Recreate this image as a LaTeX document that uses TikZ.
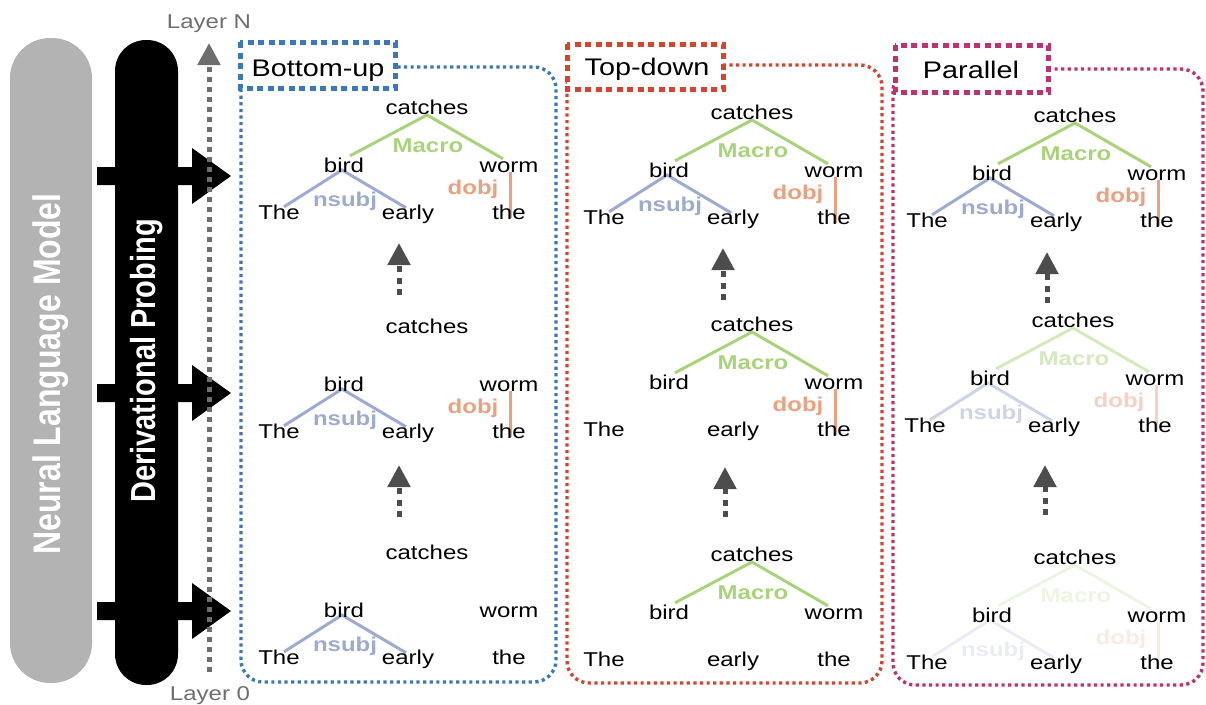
\documentclass[tikz,border=0pt]{standalone}
\usepackage{fontspec}
\setmainfont{Liberation Sans}[FakeStretch=1.2]
\newfontfamily\sidefont{Liberation Sans}
\usetikzlibrary{arrows.meta,calc}
\pgfdeclarelayer{bg}
\pgfsetlayers{bg,main}
\definecolor{mgreen}{HTML}{A9D37B}
\definecolor{mlav}{HTML}{9DAAD1}
\definecolor{msal}{HTML}{EDA080}
\definecolor{cblue}{HTML}{3A77BC}
\definecolor{cred}{HTML}{D9432E}
\definecolor{cmag}{HTML}{C2306F}
\definecolor{lgray}{HTML}{6E6E6E}
\definecolor{dgray}{HTML}{4D4D4D}
\definecolor{bargray}{HTML}{B3B3B3}
\tikzset{
  word/.style={font=\fontsize{20}{24}\selectfont, inner sep=0pt, text height=14pt, text depth=4pt, anchor=base},
  rel/.style={font=\fontsize{20}{24}\selectfont\bfseries, inner sep=0pt, text height=14pt, text depth=4pt, anchor=base},
  edge/.style={line width=3pt},
  paneldot/.style={line width=3.4pt, dash pattern=on 3.2pt off 3.4pt, rounded corners=22pt},
  labbox/.style={line width=5pt, dash pattern=on 6pt off 4.5pt, fill=white},
  labtext/.style={font=\fontsize{24}{28}\selectfont, inner sep=0pt, anchor=base},
  layertext/.style={font=\fontsize{20}{24}\selectfont, text=lgray, inner sep=0pt, anchor=base},
  layerarrow/.style={draw=lgray, line width=5pt, dash pattern=on 5pt off 5pt, -{Triangle[width=22pt,length=22pt]}},
  steparrow/.style={draw=dgray, line width=5pt, dash pattern=on 6pt off 5.5pt, -{Triangle[width=22pt,length=22pt]}},
  sidetext/.style={rotate=90, text=white, inner sep=0pt},
}
\newcommand\wordtree[3]{%
  \begin{scope}[shift={(#2,#3)}]
    \node[word] (#1-c) at (0,0) {catches};
    \node[word] (#1-bird) at (-83,58) {bird};
    \node[word] (#1-worm) at (82,58) {worm};
    \node[word] (#1-The) at (-148,105) {The};
    \node[word] (#1-early) at (-19,105) {early};
    \node[word] (#1-the) at (82,105) {the};
  \end{scope}}
\newcommand\macroedge[2]{%
  \begin{pgfonlayer}{bg}
    \draw[edge, mgreen!#2!white] ($(#1-bird.north)+(6,-2)$) -- ($(#1-c.base)+(0,1)$) -- ($(#1-worm.north)+(-6,1)$);
  \end{pgfonlayer}
  \node[rel, text=mgreen!#2!white] (#1-macro) at ($(#1-c.base)+(1,38)$) {Macro};}
\newcommand\nsubjedge[2]{%
  \begin{pgfonlayer}{bg}
    \draw[edge, mlav!#2!white] ($(#1-The.north)+(5,2)$) -- ($(#1-bird.base)+(-2,-2)$) -- ($(#1-early.north)+(-2,3)$);
  \end{pgfonlayer}
  \node[rel, text=mlav!#2!white] (#1-nsubj) at ($(#1-c.base)+(-82,92)$) {nsubj};}
\newcommand\dobjedge[2]{%
  \begin{pgfonlayer}{bg}
    \draw[edge, msal!#2!white] ($(#1-worm.base)+(1,0)$) -- ($(#1-the.base)+(1,-1)$);
  \end{pgfonlayer}
  \node[rel, text=msal!#2!white] (#1-dobj) at ($(#1-c.base)+(46,80)$) {dobj};}
\newcommand\probearrow[1]{%
  \fill[black] (97,{#1-9}) -- (192,{#1-9}) -- (192,{#1-28}) -- (231,#1) -- (192,{#1+28}) -- (192,{#1+9}) -- (97,{#1+9}) -- cycle;}
\begin{document}
\begin{tikzpicture}[x=1pt,y=-1pt]
\useasboundingbox (0,0) rectangle (1206,704);
% side bars
\fill[bargray, rounded corners=40pt] (10,38) rectangle (92,683);
\fill[black, rounded corners=31pt] (115,40) rectangle (178,685);
\probearrow{176}
\probearrow{393}
\probearrow{611}
\node[sidetext, font=\sidefont\bfseries\fontsize{32}{36}\selectfont] (nlm) at (51,374) {\scalebox{1}[1.2]{Neural Language Model}};
\node[sidetext, font=\sidefont\bfseries\fontsize{29}{33}\selectfont] (dp) at (147,361) {\scalebox{1}[1.2]{Derivational Probing}};
% layer axis
\node[layertext] (layN) at (209,28) {Layer N};
\node[layertext] (lay0) at (210,700) {Layer 0};
\coordinate (l0) at (209,672);
\coordinate (lN) at (209,43);
\draw[layerarrow] (l0) -- (lN);
% panels
\draw[paneldot, cblue] (241,67) rectangle (556,682);
\draw[paneldot, cred] (567,65) rectangle (882,683);
\draw[paneldot, cmag] (893,69) rectangle (1203,685);
\draw[labbox, draw=cblue] (240,42) rectangle (395,88);
\draw[labbox, draw=cred] (567,44) rectangle (723,89);
\draw[labbox, draw=cmag] (895,45) rectangle (1048,92);
\node[labtext] (lab-b) at (318,76) {Bottom-up};
\node[labtext] (lab-t) at (647,75) {Top-down};
\node[labtext] (lab-p) at (971,78) {Parallel};
% bottom-up trees
\wordtree{b1}{427}{114}
\macroedge{b1}{100}\nsubjedge{b1}{100}\dobjedge{b1}{100}
\wordtree{b2}{427}{333}
\nsubjedge{b2}{100}\dobjedge{b2}{100}
\wordtree{b3}{427}{559}
\nsubjedge{b3}{100}
% top-down trees
\wordtree{r1}{752}{119}
\macroedge{r1}{100}\nsubjedge{r1}{100}\dobjedge{r1}{100}
\wordtree{r2}{752}{331}
\macroedge{r2}{100}\dobjedge{r2}{100}
\wordtree{r3}{752}{561}
\macroedge{r3}{100}
% parallel trees
\wordtree{m1}{1075}{122}
\macroedge{m1}{100}\nsubjedge{m1}{100}\dobjedge{m1}{100}
\wordtree{m2}{1073}{327}
\macroedge{m2}{50}\nsubjedge{m2}{50}\dobjedge{m2}{50}
\wordtree{m3}{1075}{564}
\macroedge{m3}{22}\nsubjedge{m3}{22}\dobjedge{m3}{22}
% step arrows
\coordinate (ba1) at (399,295); \coordinate (bb1) at (399,243);
\coordinate (ba2) at (399,517); \coordinate (bb2) at (399,465);
\coordinate (ra1) at (723,300); \coordinate (rb1) at (723,248);
\coordinate (ra2) at (725,517); \coordinate (rb2) at (725,467);
\coordinate (ma1) at (1047,303); \coordinate (mb1) at (1047,252);
\coordinate (ma2) at (1045,515); \coordinate (mb2) at (1045,465);
\draw[steparrow] (ba1) -- (bb1);
\draw[steparrow] (ba2) -- (bb2);
\draw[steparrow] (ra1) -- (rb1);
\draw[steparrow] (ra2) -- (rb2);
\draw[steparrow] (ma1) -- (mb1);
\draw[steparrow] (ma2) -- (mb2);
\end{tikzpicture}
\end{document}
